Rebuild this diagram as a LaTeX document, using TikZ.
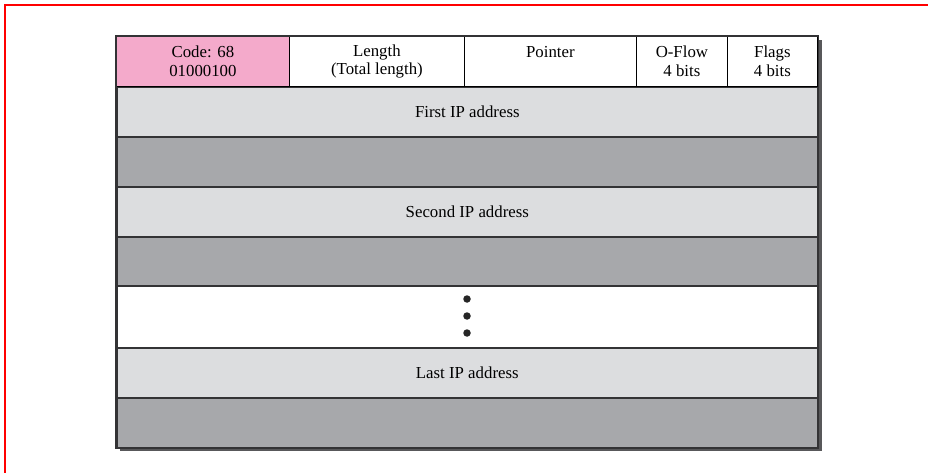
\documentclass[tikz,border=0pt]{standalone}
\usepackage{fontspec}
\setmainfont{Liberation Serif}
\definecolor{pinkcell}{HTML}{F4AACB}
\definecolor{lightrow}{HTML}{DCDDDF}
\definecolor{darkrow}{HTML}{A7A8AB}
\definecolor{edgegray}{HTML}{333335}
\definecolor{shadowgray}{HTML}{58585A}
\definecolor{framered}{HTML}{FF0000}
\tikzset{
  txt/.style={font=\fontsize{16.8}{18.5}\selectfont},
  cell/.style={txt, draw=black, line width=0.8pt, anchor=north west, inner sep=0pt,
    minimum height=50pt, align=center},
  band/.style={txt, draw=edgegray, line width=1.6pt, anchor=north west, inner sep=0pt,
    minimum width=701pt},
  lightband/.style={band, fill=lightrow, minimum height=50pt},
  darkband/.style={band, fill=darkrow, minimum height=50pt},
  dotmark/.style={circle, fill=black!85, inner sep=0pt, minimum width=7.5pt, minimum height=6.5pt}
}
\begin{document}
\begin{tikzpicture}[x=1pt,y=-1pt]
  \useasboundingbox (0,0) rectangle (928,473);
  % frame
  \draw[framered, line width=2pt] (4.5,473) -- (4.5,5.5) -- (928,5.5);
  % drop shadow
  \fill[shadowgray] (120,40) rectangle (822,451);
  % address rows
  \node[lightband] (first)  at (116,86)  {First IP address};
  \node[darkband]  (first2) at (116,136) {};
  \node[lightband] (second) at (116,186) {Second IP address};
  \node[darkband]  (second2) at (116,236) {};
  \node[band, fill=white, minimum height=62pt] (gap) at (116,285) {};
  \node[lightband] (last)  at (116,347) {Last IP address};
  \node[darkband]  (last2) at (116,397) {};
  % continuation dots
  \node[dotmark] (d1) at (467,299) {};
  \node[dotmark] (d2) at (467,316) {};
  \node[dotmark] (d3) at (467,333) {};
  % header fields
  \node[cell, fill=pinkcell, minimum width=173pt] (code) at (116,36) {Code: 68\\01000100};
  \node[cell, fill=white, minimum width=175pt] (len) at (289,36) {Length\\(Total length)};
  \node[cell, fill=white, minimum width=172pt] (ptr) at (464,36) {Pointer\\\mbox{}};
  \node[cell, fill=white, minimum width=91pt] (oflow) at (636,36) {O-Flow\\4 bits};
  \node[cell, fill=white, minimum width=90pt] (flags) at (727,36) {Flags\\4 bits};
  % outer border
  \draw[edgegray, line width=1.6pt] (code.north west) rectangle (last2.south east);
\end{tikzpicture}
\end{document}
